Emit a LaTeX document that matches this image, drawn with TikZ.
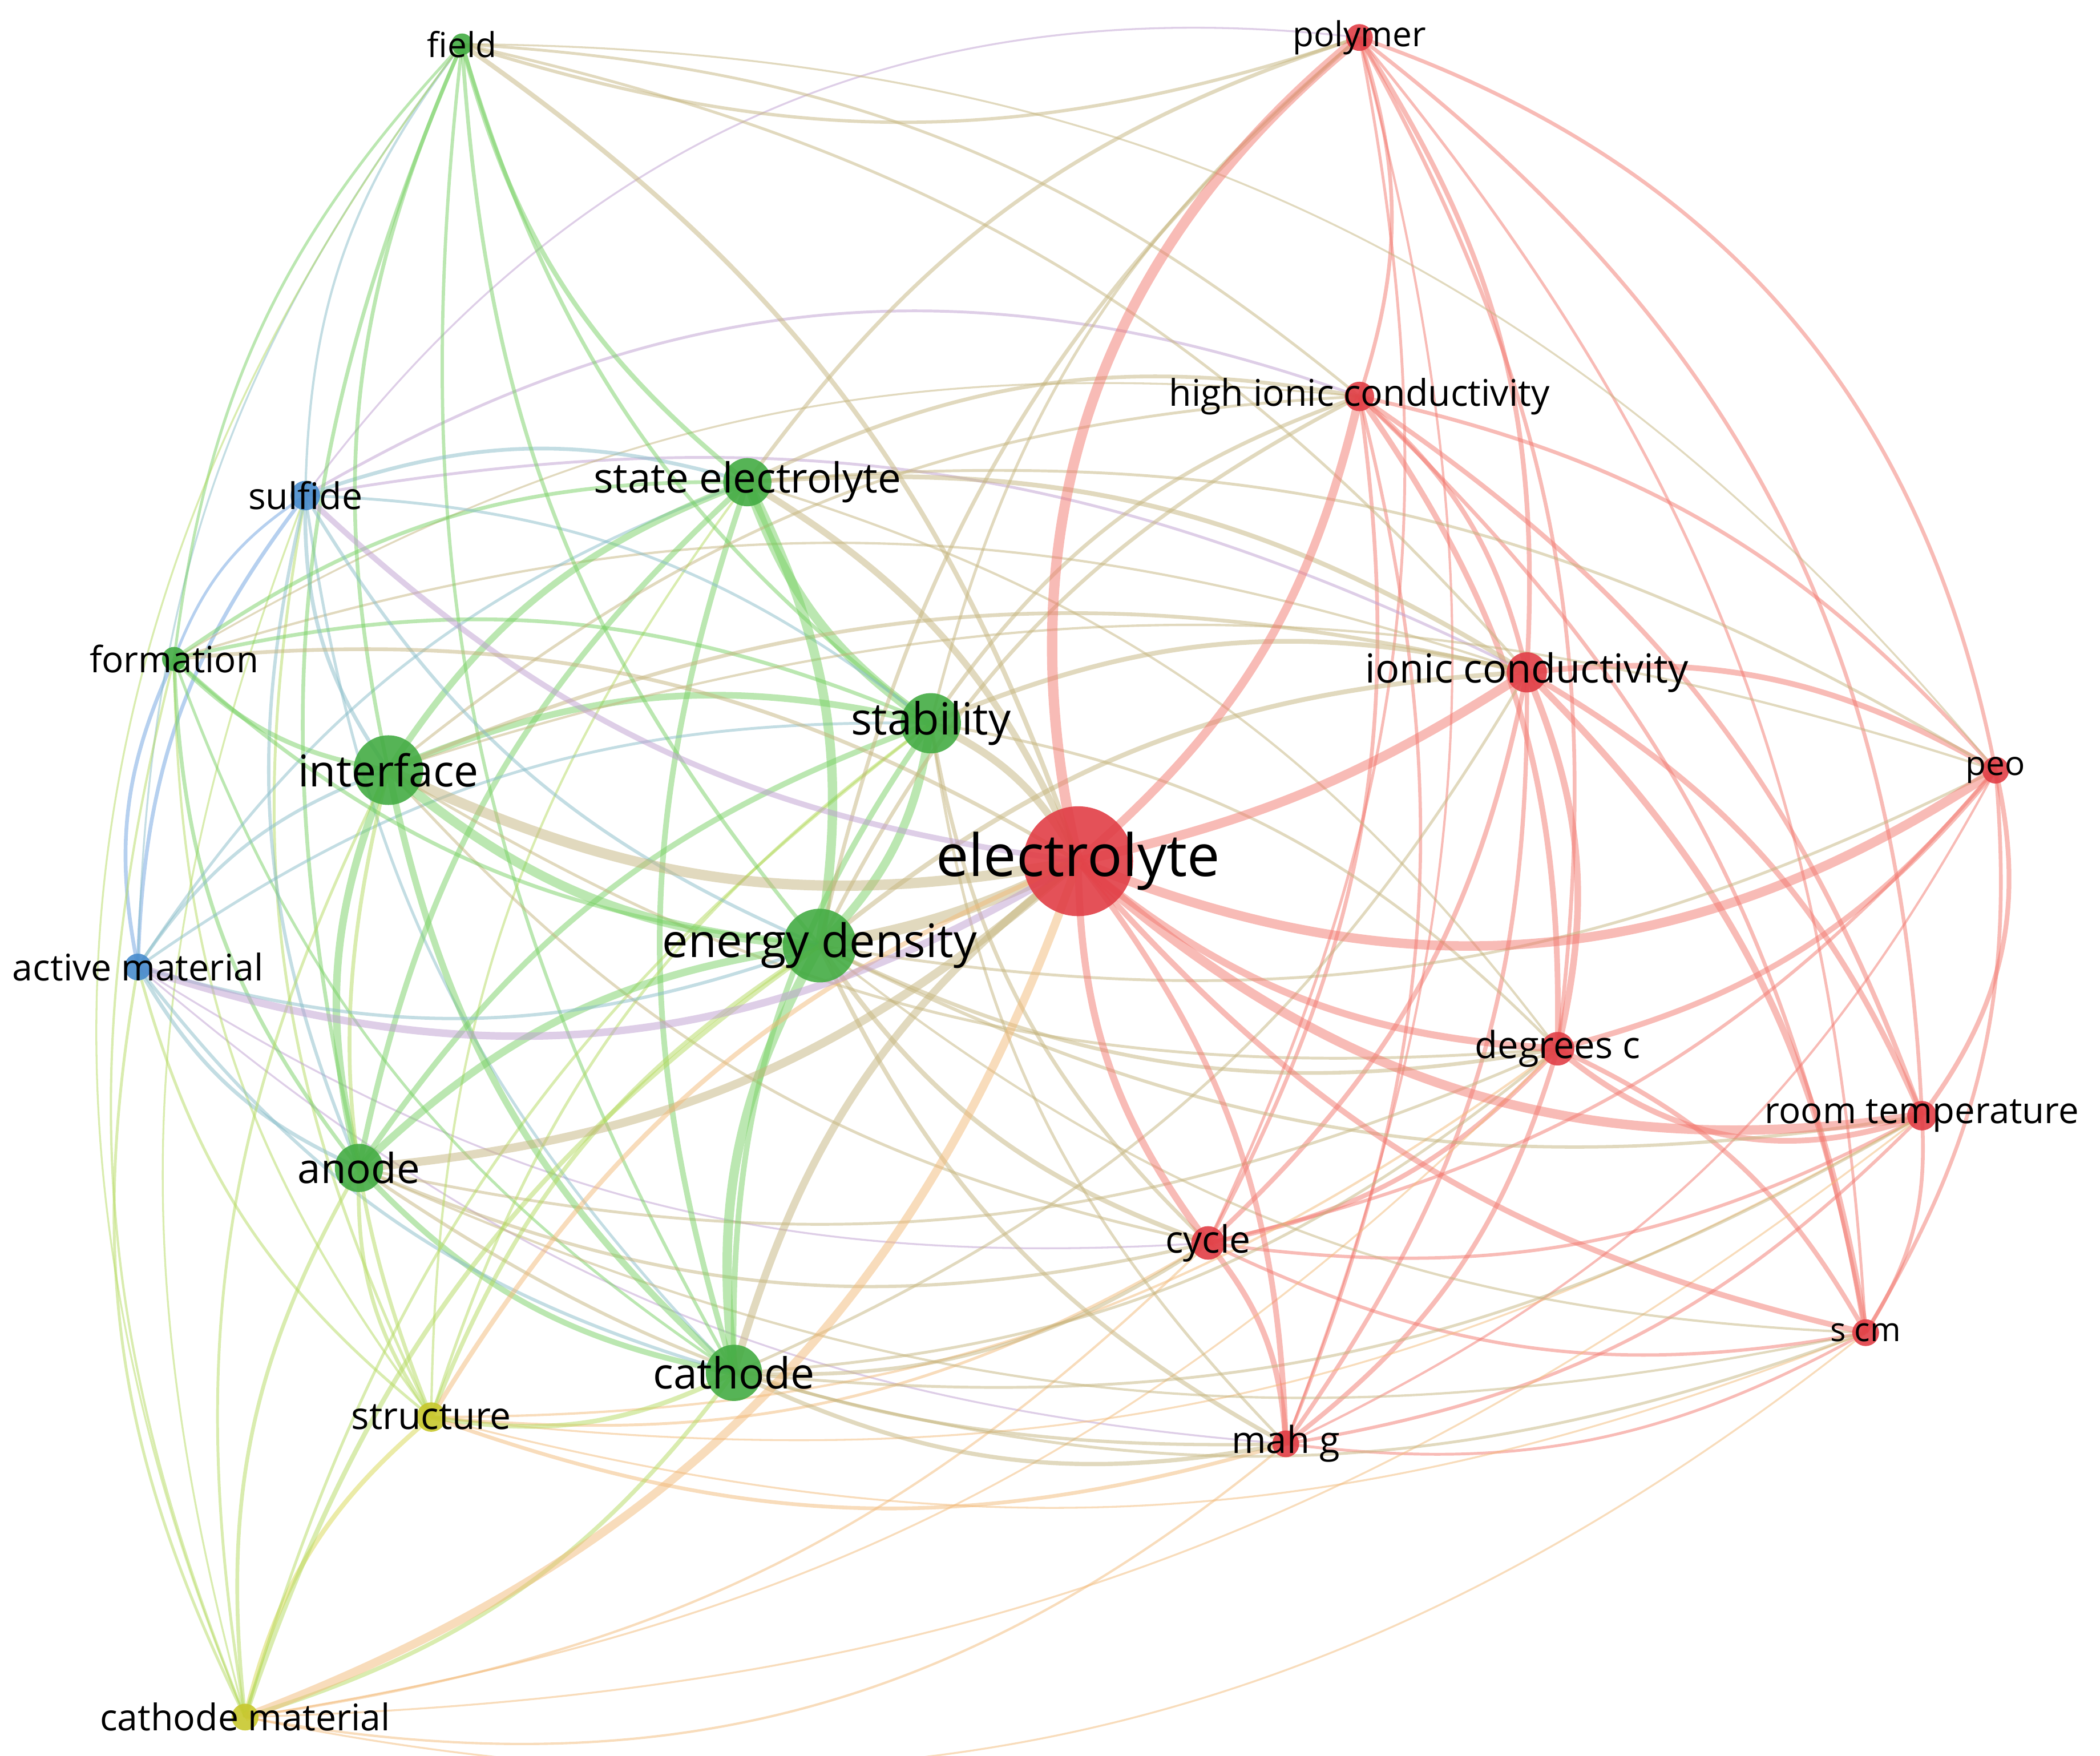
\documentclass[tikz,border=0pt]{standalone}
\usepackage{fontspec}
\setmainfont{Open Sans}
\definecolor{cR}{RGB}{225,62,70}
\definecolor{cG}{RGB}{68,172,68}
\definecolor{cB}{RGB}{72,140,205}
\definecolor{cY}{RGB}{200,200,45}
\definecolor{eR}{RGB}{242,120,110}
\definecolor{eG}{RGB}{120,208,100}
\definecolor{eB}{RGB}{110,162,224}
\definecolor{eY}{RGB}{215,215,80}
\definecolor{eRG}{RGB}{196,180,125}
\definecolor{eRY}{RGB}{242,185,120}
\definecolor{eGB}{RGB}{135,188,200}
\definecolor{eGY}{RGB}{180,218,95}
\definecolor{eRB}{RGB}{190,158,208}
\begin{document}
\begin{tikzpicture}[
    lnk/.style={line width=#1pt, draw opacity=0.5, bend left=18},
    kw/.style={shape=circle, inner sep=0, minimum size=#1cm, fill opacity=0.9},
    lab/.style={anchor=center, inner sep=0, font=\fontsize{#1}{#1}\selectfont}]
        \useasboundingbox (0, 0) rectangle (15.68, -13.11);
        % Keyword positions:
        \coordinate (fld) at (3.45, -0.33);
        \coordinate (pol) at (10.15, -0.28);
        \coordinate (hic) at (10.15, -2.96);
        \coordinate (sul) at (2.28, -3.70);
        \coordinate (ste) at (5.58, -3.60);
        \coordinate (frm) at (1.30, -4.92);
        \coordinate (ic) at (11.40, -5.02);
        \coordinate (stb) at (6.95, -5.40);
        \coordinate (itf) at (2.90, -5.75);
        \coordinate (peo) at (14.90, -5.75);
        \coordinate (ele) at (8.05, -6.43);
        \coordinate (ed) at (6.12, -7.06);
        \coordinate (am) at (1.03, -7.22);
        \coordinate (dgc) at (11.63, -7.83);
        \coordinate (rt) at (14.35, -8.33);
        \coordinate (ano) at (2.68, -8.72);
        \coordinate (cyc) at (9.02, -9.28);
        \coordinate (scm) at (13.93, -9.95);
        \coordinate (cat) at (5.48, -10.25);
        \coordinate (str) at (3.22, -10.58);
        \coordinate (mah) at (9.60, -10.78);
        \coordinate (cm) at (1.83, -12.82);
        % Links, red cluster:
        \draw[lnk=0.8, eR] (pol) to (hic);
        \draw[lnk=1.0, eR] (pol) to (ic);
        \draw[lnk=0.8, eR, bend left=30] (pol) to (peo);
        \draw[lnk=0.8, eR] (pol) to (dgc);
        \draw[lnk=0.8, eR, bend left=25] (pol) to (rt);
        \draw[lnk=0.6, eR] (pol) to (scm);
        \draw[lnk=0.6, eR] (pol) to (cyc);
        \draw[lnk=0.5, eR] (pol) to (mah);
        \draw[lnk=1.0, eR] (hic) to (ic);
        \draw[lnk=0.8, eR] (hic) to (peo);
        \draw[lnk=1.2, eR] (hic) to (dgc);
        \draw[lnk=1.0, eR] (hic) to (rt);
        \draw[lnk=0.8, eR] (hic) to (scm);
        \draw[lnk=0.8, eR] (hic) to (cyc);
        \draw[lnk=0.7, eR] (hic) to (mah);
        \draw[lnk=1.2, eR] (ic) to (peo);
        \draw[lnk=1.4, eR] (ic) to (dgc);
        \draw[lnk=1.2, eR] (ic) to (rt);
        \draw[lnk=1.4, eR] (ic) to (scm);
        \draw[lnk=1.0, eR] (ic) to (cyc);
        \draw[lnk=0.9, eR] (ic) to (mah);
        \draw[lnk=1.2, eR] (peo) to (dgc);
        \draw[lnk=1.0, eR, bend left=25] (peo) to (rt);
        \draw[lnk=0.8, eR] (peo) to (scm);
        \draw[lnk=0.7, eR] (peo) to (cyc);
        \draw[lnk=0.5, eR] (peo) to (mah);
        \draw[lnk=1.2, eR, bend left=30] (rt) to (dgc);
        \draw[lnk=1.0, eR] (dgc) to (scm);
        \draw[lnk=1.0, eR] (dgc) to (cyc);
        \draw[lnk=1.0, eR] (dgc) to (mah);
        \draw[lnk=0.8, eR] (rt) to (scm);
        \draw[lnk=0.7, eR] (rt) to (cyc);
        \draw[lnk=0.7, eR] (rt) to (mah);
        \draw[lnk=0.7, eR] (scm) to (cyc);
        \draw[lnk=0.6, eR] (scm) to (mah);
        \draw[lnk=1.2, eR] (cyc) to (mah);
        % Links, blue and yellow clusters:
        \draw[lnk=0.8, eB] (am) to (sul);
        \draw[lnk=0.6, eB] (frm) to (sul);
        \draw[lnk=0.5, eGB] (sul) to (fld);
        \draw[lnk=0.6, eGY] (str) to (sul);
        \draw[lnk=0.4, eGY] (cm) to (sul);
        \draw[lnk=0.6, eRB, bend left=25] (sul) to (hic);
        \draw[lnk=0.6, eRB] (sul) to (ic);
        \draw[lnk=0.4, eRB, bend left=30] (sul) to (pol);
        \draw[lnk=0.8, eB] (am) to (frm);
        \draw[lnk=0.6, eGY] (str) to (am);
        \draw[lnk=0.6, eGY] (cm) to (am);
        \draw[lnk=0.4, eGB] (am) to (fld);
        \draw[lnk=0.4, eRB] (cyc) to (am);
        \draw[lnk=0.4, eRB] (mah) to (am);
        \draw[lnk=0.6, eG] (frm) to (fld);
        \draw[lnk=0.5, eGY] (str) to (frm);
        \draw[lnk=0.5, eGY] (cm) to (frm);
        \draw[lnk=0.5, eRG] (frm) to (ic);
        \draw[lnk=0.4, eRG] (frm) to (hic);
        \draw[lnk=0.7, eRG] (pol) to (fld);
        \draw[lnk=0.6, eRG] (fld) to (hic);
        \draw[lnk=0.6, eRG] (fld) to (ic);
        \draw[lnk=0.4, eRG, bend left=25] (fld) to (peo);
        \draw[lnk=0.4, eGY, bend left=30] (cm) to (fld);
        \draw[lnk=1.0, eY] (cm) to (str);
        \draw[lnk=0.6, eRY] (cyc) to (str);
        \draw[lnk=0.8, eRY] (mah) to (str);
        \draw[lnk=0.5, eRY] (dgc) to (str);
        \draw[lnk=0.4, eRY] (rt) to (str);
        \draw[lnk=0.4, eRY] (scm) to (str);
        \draw[lnk=0.5, eRY, bend left=25] (mah) to (cm);
        \draw[lnk=0.5, eRY] (cyc) to (cm);
        \draw[lnk=0.4, eRY, bend left=25] (scm) to (cm);
        \draw[lnk=0.4, eRY] (rt) to (cm);
        \draw[lnk=0.4, eRY] (dgc) to (cm);
        % Links, green cluster:
        \draw[lnk=1.2, eG] (cat) to (ano);
        \draw[lnk=1.0, eGY] (cat) to (str);
        \draw[lnk=0.9, eGY] (cat) to (cm);
        \draw[lnk=0.7, eGB] (cat) to (am);
        \draw[lnk=0.6, eGB] (cat) to (sul);
        \draw[lnk=0.6, eG] (cat) to (frm);
        \draw[lnk=0.7, eG] (cat) to (fld);
        \draw[lnk=0.8, eRG] (cyc) to (cat);
        \draw[lnk=0.9, eRG] (mah) to (cat);
        \draw[lnk=0.6, eRG] (dgc) to (cat);
        \draw[lnk=0.6, eRG] (rt) to (cat);
        \draw[lnk=0.6, eRG] (scm) to (cat);
        \draw[lnk=0.6, eRG] (ic) to (cat);
        \draw[lnk=0.8, eGY] (str) to (ano);
        \draw[lnk=0.8, eGY] (cm) to (ano);
        \draw[lnk=0.8, eGB] (ano) to (am);
        \draw[lnk=0.7, eGB] (ano) to (sul);
        \draw[lnk=0.8, eG] (ano) to (frm);
        \draw[lnk=0.8, eG] (ano) to (fld);
        \draw[lnk=0.7, eRG] (cyc) to (ano);
        \draw[lnk=0.7, eRG] (mah) to (ano);
        \draw[lnk=0.6, eRG] (dgc) to (ano);
        \draw[lnk=0.5, eRG] (scm) to (ano);
        \draw[lnk=1.2, eG] (cat) to (ste);
        \draw[lnk=1.2, eG] (ano) to (ste);
        \draw[lnk=0.8, eG] (frm) to (ste);
        \draw[lnk=1.0, eG] (ste) to (fld);
        \draw[lnk=0.8, eGB] (sul) to (ste);
        \draw[lnk=0.6, eGB] (am) to (ste);
        \draw[lnk=1.0, eRG] (ste) to (ic);
        \draw[lnk=0.8, eRG] (ste) to (hic);
        \draw[lnk=0.8, eRG] (ste) to (pol);
        \draw[lnk=0.6, eRG] (ste) to (peo);
        \draw[lnk=0.5, eRG] (ste) to (dgc);
        \draw[lnk=0.5, eGY] (str) to (ste);
        \draw[lnk=2.0, eG] (stb) to (ste);
        \draw[lnk=1.2, eG] (cat) to (stb);
        \draw[lnk=1.2, eG] (ano) to (stb);
        \draw[lnk=0.8, eG] (frm) to (stb);
        \draw[lnk=0.8, eG] (stb) to (fld);
        \draw[lnk=0.6, eGB] (sul) to (stb);
        \draw[lnk=0.6, eGB] (am) to (stb);
        \draw[lnk=1.0, eRG] (stb) to (ic);
        \draw[lnk=0.8, eRG] (stb) to (hic);
        \draw[lnk=0.6, eRG] (stb) to (pol);
        \draw[lnk=0.8, eRG] (cyc) to (stb);
        \draw[lnk=0.6, eRG] (stb) to (dgc);
        \draw[lnk=0.6, eGY] (cm) to (stb);
        \draw[lnk=0.6, eGY] (str) to (stb);
        \draw[lnk=0.6, eRG] (mah) to (stb);
        \draw[lnk=1.4, eG] (itf) to (ste);
        \draw[lnk=1.4, eG] (itf) to (stb);
        \draw[lnk=1.6, eG] (ano) to (itf);
        \draw[lnk=1.4, eG] (cat) to (itf);
        \draw[lnk=1.0, eG] (itf) to (frm);
        \draw[lnk=0.8, eG] (itf) to (fld);
        \draw[lnk=0.8, eGB] (itf) to (sul);
        \draw[lnk=0.7, eGB] (am) to (itf);
        \draw[lnk=0.8, eGY] (str) to (itf);
        \draw[lnk=0.6, eGY] (cm) to (itf);
        \draw[lnk=0.8, eRG] (itf) to (ic);
        \draw[lnk=0.6, eRG] (itf) to (hic);
        \draw[lnk=0.6, eRG] (dgc) to (itf);
        \draw[lnk=0.6, eRG] (cyc) to (itf);
        \draw[lnk=0.5, eRG] (itf) to (peo);
        \draw[lnk=2.0, eG] (ste) to (ed);
        \draw[lnk=1.8, eG] (stb) to (ed);
        \draw[lnk=2.0, eG] (ed) to (itf);
        \draw[lnk=2.0, eG] (cat) to (ed);
        \draw[lnk=1.6, eG] (ano) to (ed);
        \draw[lnk=0.8, eG] (ed) to (frm);
        \draw[lnk=0.8, eG] (ed) to (fld);
        \draw[lnk=0.7, eGB] (ed) to (sul);
        \draw[lnk=0.7, eGB] (ed) to (am);
        \draw[lnk=0.9, eGY] (str) to (ed);
        \draw[lnk=1.0, eGY] (cm) to (ed);
        \draw[lnk=1.0, eRG] (ed) to (ic);
        \draw[lnk=0.8, eRG] (ed) to (hic);
        \draw[lnk=0.8, eRG] (ed) to (pol);
        \draw[lnk=0.8, eRG] (dgc) to (ed);
        \draw[lnk=0.7, eRG] (rt) to (ed);
        \draw[lnk=1.0, eRG] (cyc) to (ed);
        \draw[lnk=0.9, eRG] (mah) to (ed);
        \draw[lnk=0.5, eRG] (scm) to (ed);
        \draw[lnk=0.6, eRG] (peo) to (ed);
        % Links of electrolyte:
        \draw[lnk=2.2, eR, bend left=32] (ele) to (pol);
        \draw[lnk=1.8, eR] (hic) to (ele);
        \draw[lnk=2.0, eR, bend left=10] (ic) to (ele);
        \draw[lnk=2.0, eR, bend left=28] (peo) to (ele);
        \draw[lnk=2.0, eR, bend left=25] (rt) to (ele);
        \draw[lnk=1.5, eR] (dgc) to (ele);
        \draw[lnk=1.2, eR] (scm) to (ele);
        \draw[lnk=1.5, eR] (cyc) to (ele);
        \draw[lnk=1.2, eR] (ele) to (mah);
        \draw[lnk=2.4, eRG, bend left=8] (ele) to (ed);
        \draw[lnk=1.6, eRG] (stb) to (ele);
        \draw[lnk=1.4, eRG] (ste) to (ele);
        \draw[lnk=2.2, eRG] (ele) to (itf);
        \draw[lnk=1.6, eRG] (cat) to (ele);
        \draw[lnk=1.8, eRG] (ele) to (ano);
        \draw[lnk=1.8, eRY, bend left=25] (ele) to (cm);
        \draw[lnk=1.0, eRY] (str) to (ele);
        \draw[lnk=1.6, eRB, bend left=25] (ele) to (am);
        \draw[lnk=1.2, eRB] (ele) to (sul);
        \draw[lnk=1.0, eRG] (fld) to (ele);
        \draw[lnk=0.8, eRG] (frm) to (ele);
        % Nodes and labels:
        \node[kw=0.16, fill=cG](fldN) at (fld){} node[lab=7.3](fldL) at (fldN.center){field};
        \node[kw=0.20, fill=cR](polN) at (pol){} node[lab=7.3](polL) at (polN.center){polymer};
        \node[kw=0.22, fill=cR](hicN) at (hic){} node[lab=7.8](hicL) at (hicN.center){high ionic conductivity};
        \node[kw=0.22, fill=cB](sulN) at (sul){} node[lab=7.8](sulL) at (sulN.center){sulfide};
        \node[kw=0.36, fill=cG](steN) at (ste){} node[lab=8.8](steL) at (steN.center){state electrolyte};
        \node[kw=0.18, fill=cG](frmN) at (frm){} node[lab=7.7](frmL) at (frmN.center){formation};
        \node[kw=0.30, fill=cR](icN) at (ic){} node[lab=8.5](icL) at (icN.center){ionic conductivity};
        \node[kw=0.45, fill=cG](stbN) at (stb){} node[lab=9.4](stbL) at (stbN.center){stability};
        \node[kw=0.52, fill=cG](itfN) at (itf){} node[lab=9.3](itfL) at (itfN.center){interface};
        \node[kw=0.20, fill=cR](peoN) at (peo){} node[lab=7.1](peoL) at (peoN.center){peo};
        \node[kw=0.82, fill=cR](eleN) at (ele){} node[lab=12.4](eleL) at (eleN.center){electrolyte};
        \node[kw=0.55, fill=cG](edN) at (ed){} node[lab=9.8](edL) at (edN.center){energy density};
        \node[kw=0.20, fill=cB](amN) at (am){} node[lab=7.8](amL) at (amN.center){active material};
        \node[kw=0.25, fill=cR](dgcN) at (dgc){} node[lab=7.9](dgcL) at (dgcN.center){degrees c};
        \node[kw=0.22, fill=cR](rtN) at (rt){} node[lab=7.7](rtL) at (rtN.center){room temperature};
        \node[kw=0.36, fill=cG](anoN) at (ano){} node[lab=8.8](anoL) at (anoN.center){anode};
        \node[kw=0.25, fill=cR](cycN) at (cyc){} node[lab=8.0](cycL) at (cycN.center){cycle};
        \node[kw=0.20, fill=cR](scmN) at (scm){} node[lab=7.0](scmL) at (scmN.center){s cm};
        \node[kw=0.42, fill=cG](catN) at (cat){} node[lab=9.1](catL) at (catN.center){cathode};
        \node[kw=0.22, fill=cY](strN) at (str){} node[lab=8.0](strL) at (strN.center){structure};
        \node[kw=0.20, fill=cR](mahN) at (mah){} node[lab=7.9](mahL) at (mahN.center){mah g};
        \node[kw=0.20, fill=cY](cmN) at (cm){} node[lab=7.8](cmL) at (cmN.center){cathode material};
    \end{tikzpicture}
\end{document}
